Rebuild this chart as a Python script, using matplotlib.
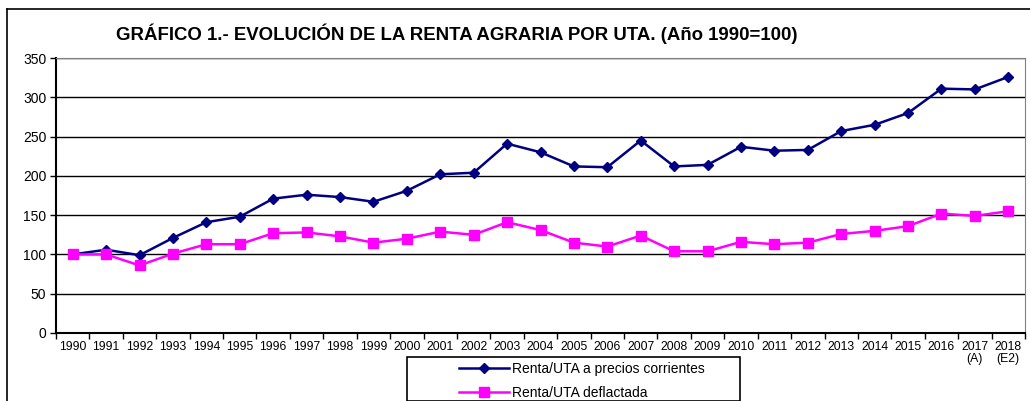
import matplotlib
matplotlib.use('Agg')
import matplotlib.pyplot as plt
from matplotlib.lines import Line2D
from matplotlib.patches import Rectangle

plt.rcParams['font.family'] = ['Liberation Sans', 'DejaVu Sans']

years = ['1990', '1991', '1992', '1993', '1994', '1995', '1996', '1997', '1998',
         '1999', '2000', '2001', '2002', '2003', '2004', '2005', '2006', '2007',
         '2008', '2009', '2010', '2011', '2012', '2013', '2014', '2015', '2016',
         '2017\n(A)', '2018\n(E2)']
corrientes = [100, 106, 99, 121, 141, 148, 171, 176, 173, 167, 181, 202, 204,
              241, 230, 212, 211, 245, 212, 214, 237, 232, 233, 257, 265, 280,
              311, 310, 326]
deflactada = [100, 100, 86, 101, 113, 113, 127, 128, 123, 115, 120, 129, 125,
              141, 131, 115, 110, 124, 104, 104, 116, 113, 115, 126, 130, 136,
              152, 149, 155]

W, H = 1030, 401
fig = plt.figure(figsize=(W / 100, H / 100), dpi=100)

# outer frame (top and left edges visible)
fig.add_artist(Line2D([7 / W, 7 / W], [0, 1 - 9 / H], color='black', lw=1.2,
                      transform=fig.transFigure))
fig.add_artist(Line2D([7 / W, 1], [1 - 9 / H, 1 - 9 / H], color='black', lw=1.2,
                      transform=fig.transFigure))

ax = fig.add_axes([56 / W, (H - 333) / H, (1025 - 56) / W, (333 - 58) / H])
x = list(range(len(years)))

ax.plot(x, corrientes, color='#000080', marker='D', markersize=5.5, lw=1.8,
        label='Renta/UTA a precios corrientes', zorder=3)
ax.plot(x, deflactada, color='#FF00FF', marker='s', markersize=7, lw=1.8,
        label='Renta/UTA deflactada', zorder=3)

ax.set_xlim(-0.5, len(years) - 0.5)
ax.set_ylim(0, 350)
ax.set_yticks(range(0, 351, 50))
ax.yaxis.grid(True, color='black', lw=1)
ax.set_axisbelow(True)

ax.set_xticks(x)
ax.set_xticklabels(years, fontsize=8.8, linespacing=1.0)
ax.set_xticks([i - 0.5 for i in range(len(years) + 1)], minor=True)
ax.tick_params(axis='x', which='major', length=0, pad=6)
ax.tick_params(axis='x', which='minor', length=4, width=1, color='black')
ax.tick_params(axis='y', length=4, width=1, labelsize=10, pad=3)

for s in ['top', 'right']:
    ax.spines[s].set_color('#808080')
for s in ['left', 'bottom']:
    ax.spines[s].set_color('black')
    ax.spines[s].set_linewidth(1.5)

fig.text(457 / W, 1 - 34 / H,
         'GRÁFICO 1.- EVOLUCIÓN DE LA RENTA AGRARIA POR UTA. (Año 1990=100)',
         ha='center', va='center', fontsize=13.4, fontweight='bold')

# legend box
fig.add_artist(Rectangle((407 / W, 0.5 / H), (740 - 407) / W, (400 - 356) / H,
                         transform=fig.transFigure, facecolor='white',
                         edgecolor='black', lw=1.2))
fig.legend(loc='upper left', bbox_to_anchor=(446 / W, 1 - 349 / H),
           frameon=False, fontsize=10, handlelength=3.6, handletextpad=0.25,
           labelspacing=0.75)

fig.savefig('out.png', dpi=100)
